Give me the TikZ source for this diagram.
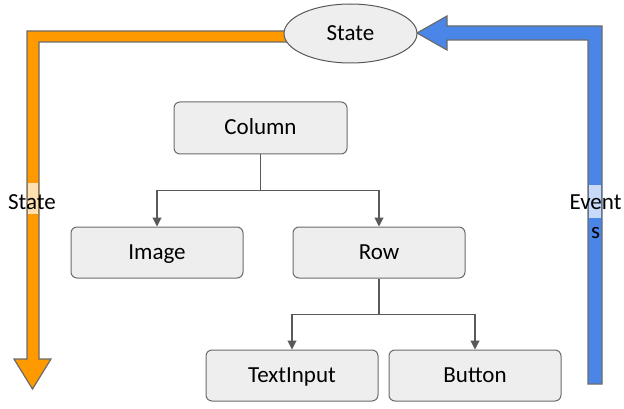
\documentclass[tikz,border=0pt]{standalone}
\usepackage{fontspec}
\setmainfont{Carlito}
\usetikzlibrary{shapes.geometric,arrows.meta}
\definecolor{boxfill}{HTML}{EEEEEE}
\definecolor{boxline}{HTML}{6B6B6B}
\definecolor{connline}{HTML}{595959}
\definecolor{orangeA}{HTML}{FF9900}
\definecolor{blueA}{HTML}{4A86E8}
\definecolor{arrline}{HTML}{6B6B6B}
\tikzset{
  every node/.style={font=\fontsize{23}{29}\selectfont},
  compbox/.style={draw=boxline, fill=boxfill, line width=1pt, rounded corners=6pt,
    minimum width=172pt, minimum height=51pt, inner sep=0pt, text height=15pt, text depth=2pt},
  stateell/.style={ellipse, draw=connline, fill=boxfill, line width=1pt,
    minimum width=133pt, minimum height=59pt, inner sep=0pt},
  conn/.style={draw=connline, line width=1.1pt, -{Triangle[width=9pt,length=9pt]}},
  bigarrow/.style={draw=arrline, line width=1.2pt, line join=miter},
  lbl/.style={inner sep=0pt, align=center}
}
\begin{document}
\begin{tikzpicture}[x=1pt,y=-1pt]
\useasboundingbox (0,0) rectangle (624,409);
% orange State arrow
\filldraw[bigarrow, fill=orangeA] (300,31) -- (27,31) -- (27,359) -- (14,359) -- (32.5,389)
  -- (51,359) -- (39,359) -- (39,42) -- (300,42) -- cycle;
% blue Events arrow
\filldraw[bigarrow, fill=blueA] (588,384) -- (588,40) -- (447,40) -- (447,50) -- (417,33)
  -- (447,16) -- (447,26) -- (602,26) -- (602,384) -- cycle;
% state ellipse
\node[stateell] (state) at (350.5,33.5) {State};
% label backgrounds over shafts
\fill[white, fill opacity=0.7] (27.6,183) rectangle (38.4,214);
\fill[white, fill opacity=0.7] (588.6,185) rectangle (601.4,218);
\node[lbl] (statelbl) at (32,202) {State};
\node[lbl, anchor=north] (eventslbl) at (595.5,195) {Event\\s};
% boxes
\node[compbox, minimum width=173pt, minimum height=52pt] (column) at (260.5,128) {Column};
\node[compbox] (image) at (157,252.5) {Image};
\node[compbox] (row) at (379,252.5) {Row};
\node[compbox] (textinput) at (292,375.5) {TextInput};
\node[compbox] (button) at (475,375.5) {Button};
% connectors
\draw[conn] (column.south) -- ++(0,36) -| (image.north);
\draw[conn] (column.south) -- ++(0,36) -| (row.north);
\draw[conn] (row.south) -- ++(0,36) -| (textinput.north);
\draw[conn] (row.south) -- ++(0,36) -| (button.north);
\end{tikzpicture}
\end{document}
